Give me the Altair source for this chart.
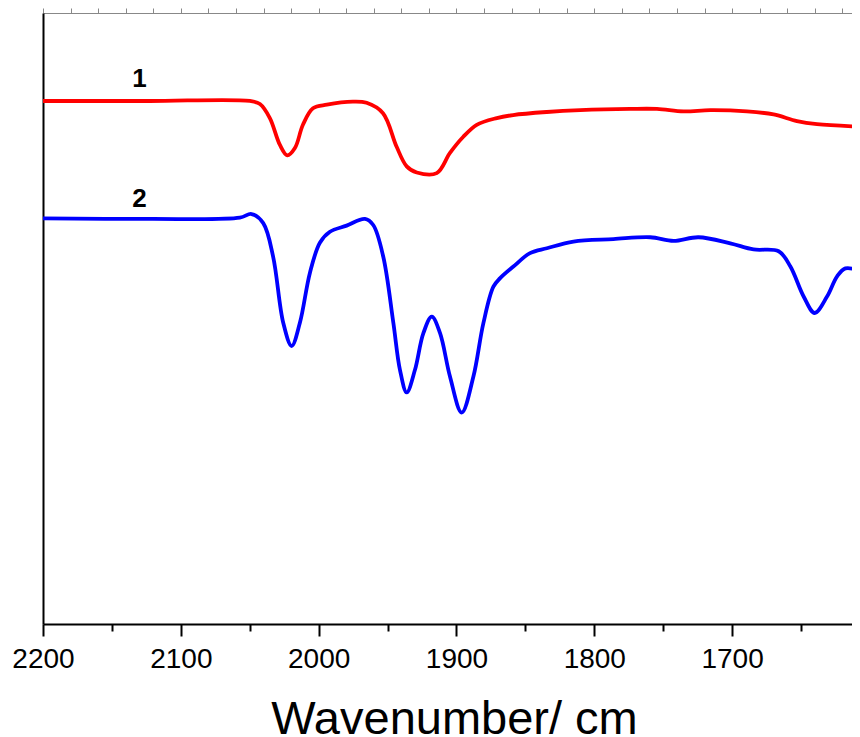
"""IR spectra of samples 1 and 2 in the carbonyl region."""

import altair as alt
import pandas as pd

# wavenumber (cm-1) and relative transmittance (a.u.)
red_wavenumber = [
    2200, 2122.5, 2049.9, 2042.6, 2035.4, 2028.1, 2022.8, 2017.2, 2011.4, 2004.1,
    1994.0, 1975.1, 1965.2, 1953.3, 1943.4, 1936.1, 1928.8, 1914.3, 1904.7, 1895.2,
    1885.3, 1870.7, 1858.9, 1834.4, 1810.2, 1773.9, 1754.5, 1735.2, 1715.8, 1689.2,
    1669.9, 1652.9, 1638.4, 1607,
]
red_value = [
    85.6, 85.6, 85.6, 85.1, 82.8, 78.4, 76.7, 77.9, 81.7, 84.4,
    85.0, 85.5, 85.3, 83.6, 78.1, 74.9, 73.9, 73.8, 77.1, 79.7,
    81.7, 82.8, 83.3, 83.8, 84.1, 84.3, 84.3, 83.9, 84.1, 83.9,
    83.4, 82.3, 81.8, 81.4,
]
blue_wavenumber = [
    2200, 2122.5, 2057.2, 2048.7, 2040.2, 2033.0, 2025.7, 2019.6, 2013.6, 2006.3,
    1999.1, 1991.8, 1979.7, 1966.4, 1960.4, 1953.1, 1945.8, 1941.0, 1936.1, 1930.1,
    1924.0, 1917.9, 1911.9, 1904.7, 1896.2, 1887.7, 1880.5, 1873.2, 1868.3, 1858.7,
    1846.6, 1834.4, 1815.1, 1786.1, 1759.4, 1742.5, 1724.4, 1701.3, 1684.4, 1666.2,
    1657.7, 1648.1, 1640.1, 1631.1, 1623.8, 1617.8, 1607,
]
blue_value = [
    66.4, 66.3, 66.5, 67.1, 65.6, 60.1, 49.3, 45.5, 49.3, 57.5,
    62.4, 64.2, 65.2, 66.3, 65.3, 60.1, 49.3, 41.6, 37.9, 41.6,
    47.6, 50.3, 47.6, 40.5, 34.6, 40.5, 49.2, 55.2, 56.6, 58.5,
    60.7, 61.5, 62.6, 63.0, 63.3, 62.7, 63.3, 62.3, 61.3, 61.0,
    58.5, 53.6, 50.9, 53.6, 56.9, 58.2, 57.8,
]
label_text = ["1", "2"]
label_wavenumber = [2130, 2130]
label_value = [89.2, 69.6]

major_ticks = [2200, 2100, 2000, 1900, 1800, 1700]
minor_ticks = [2150, 2050, 1950, 1850, 1750, 1650]
# the page is 8px narrower than the figure, so the visible range stops a little early
x_domain = [2200, 1613]
y_domain = [0, 100]

red = pd.DataFrame({"wavenumber": red_wavenumber, "value": red_value})
blue = pd.DataFrame({"wavenumber": blue_wavenumber, "value": blue_value})
labels = pd.DataFrame({"text": label_text, "wavenumber": label_wavenumber, "value": label_value})

font = "Liberation Sans"
x_scale = alt.Scale(domain=x_domain, nice=False, zero=False)
y_scale = alt.Scale(domain=y_domain, nice=False, zero=False)
y_axis = alt.Axis(
    title=None, labels=False, ticks=False, grid=False,
    domainColor="black", domainWidth=2,
)

red_line = (
    alt.Chart(red)
    .mark_line(color="#ff0000", strokeWidth=3.8, interpolate="catmull-rom", clip=True)
    .encode(
        x=alt.X(
            "wavenumber",
            type="quantitative",
            scale=x_scale,
            axis=alt.Axis(
                title="Wavenumber/ cm",
                orient="bottom",
                values=major_ticks,
                format="d",
                grid=False,
                domainColor="black",
                domainWidth=2,
                tickColor="black",
                tickWidth=2,
                tickSize=12,
                labelFont=font,
                labelFontSize=28,
                labelColor="black",
                labelBaseline="alphabetic",
                labelPadding=31,
                labelFlush=False,
                labelOverlap=False,
                titleFont=font,
                titleFontSize=47,
                titleFontWeight="normal",
                titleColor="black",
                titleBaseline="alphabetic",
                titleY=109,
                titleX=411,
            ),
        ),
        y=alt.Y("value", type="quantitative", scale=y_scale, axis=y_axis),
    )
)

blue_line = (
    alt.Chart(blue)
    .mark_line(color="#0000ff", strokeWidth=3.8, interpolate="catmull-rom", clip=True)
    .encode(
        x=alt.X(
            "wavenumber",
            type="quantitative",
            scale=x_scale,
            axis=alt.Axis(
                title=None,
                orient="bottom",
                values=minor_ticks,
                labels=False,
                grid=False,
                domain=False,
                tickColor="black",
                tickWidth=2,
                tickSize=7,
            ),
        ),
        y=alt.Y("value", type="quantitative", scale=y_scale, axis=y_axis),
    )
)

curve_labels = (
    alt.Chart(labels)
    .mark_text(font=font, fontSize=26, fontWeight="bold", color="black")
    .encode(
        x=alt.X("wavenumber", type="quantitative", scale=x_scale),
        y=alt.Y("value", type="quantitative", scale=y_scale),
        text="text",
    )
)

chart = (
    alt.layer(red_line, blue_line, curve_labels)
    .resolve_scale(x="independent")
    .resolve_axis(x="independent")
    .properties(
        width=809,
        height=611,
        autosize=alt.AutoSizeParams(type="none"),
        padding={"left": 35, "top": 5, "right": 0, "bottom": 113},
        background="white",
    )
    .configure_view(strokeWidth=0)
)

chart.save("out.html", embed_options={"renderer": "svg", "actions": False})
